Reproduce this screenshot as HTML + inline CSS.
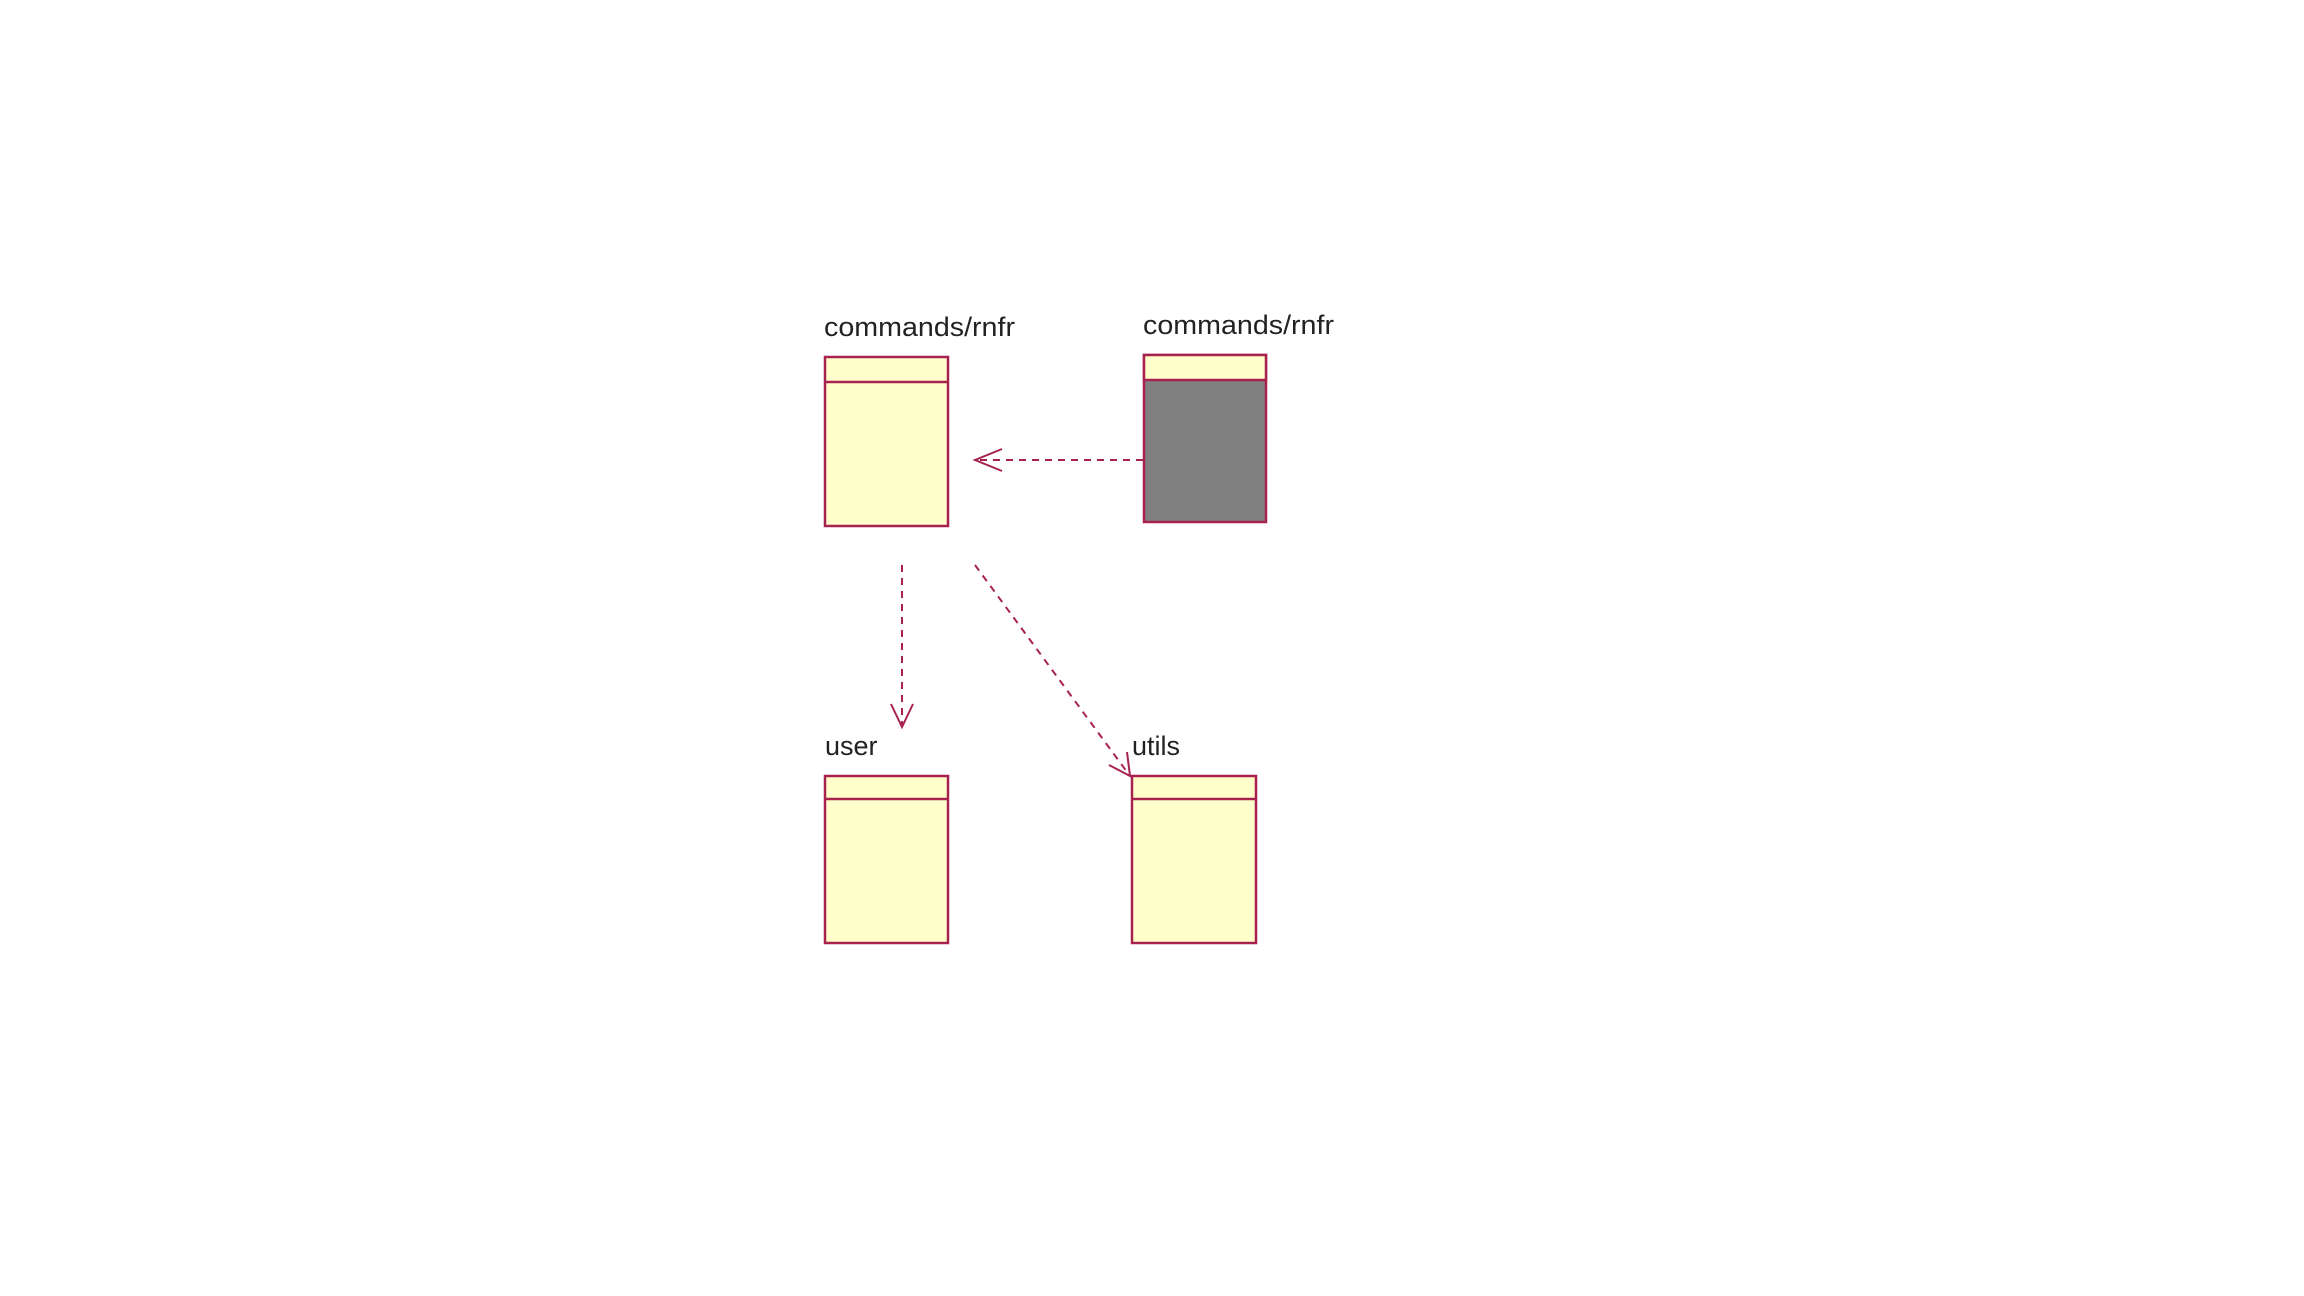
<!DOCTYPE html>
<html><head><style>html,body{margin:0;padding:0;background:#fff;}svg{display:block}</style></head>
<body>
<svg width="2304" height="1296" viewBox="0 0 2304 1296" xmlns="http://www.w3.org/2000/svg">
<g font-family="Liberation Sans, sans-serif" font-size="27" fill="#222">
<text x="824" y="336" textLength="191" lengthAdjust="spacingAndGlyphs">commands/rnfr</text>
<text x="1143" y="334" textLength="191" lengthAdjust="spacingAndGlyphs">commands/rnfr</text>
<text x="825" y="755">user</text>
<text x="1132" y="755">utils</text>
</g>
<g stroke="#a8224f" stroke-width="2.5">
<rect x="825" y="357" width="123" height="169" fill="#ffffcc"/>
<line x1="825" y1="382" x2="948" y2="382"/>
<rect x="1144" y="355" width="122" height="167" fill="#808080"/>
<rect x="1144" y="355" width="122" height="25" fill="#ffffcc"/>
<rect x="825" y="776" width="123" height="167" fill="#ffffcc"/>
<line x1="825" y1="799" x2="948" y2="799"/>
<rect x="1132" y="776" width="124" height="167" fill="#ffffcc"/>
<line x1="1132" y1="799" x2="1256" y2="799"/>
</g>
<g stroke="#a8224f" stroke-width="2" fill="none">
<line x1="1143" y1="460" x2="975" y2="460" stroke-dasharray="7,6"/>
<polyline points="1002,449 975,460 1002,471"/>
<line x1="902" y1="565" x2="902" y2="726" stroke-dasharray="7,6"/>
<polyline points="891,704 902,727 913,704"/>
<line x1="975" y1="565" x2="1130" y2="776" stroke-dasharray="7,6"/>
<polyline points="1109,765 1130,776 1127,752"/>
</g>
</svg>
</body></html>
